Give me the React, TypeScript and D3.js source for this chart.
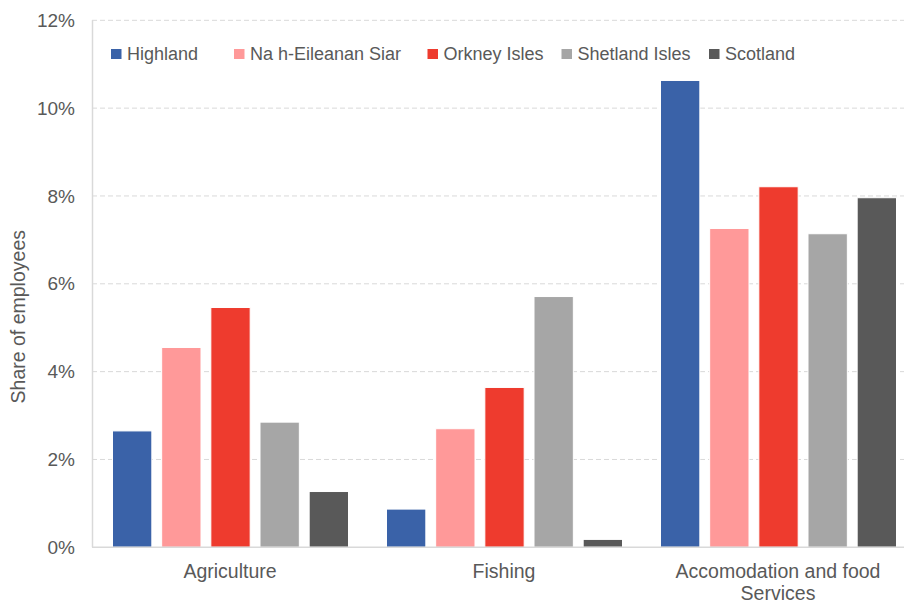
import React from "react";
import * as d3 from "d3";

const sectors = ["Agriculture", "Fishing", "Accomodation and food Services"];
const sectorLines = [["Agriculture"], ["Fishing"], ["Accomodation and food", "Services"]];
const regions = ["Highland", "Na h-Eileanan Siar", "Orkney Isles", "Shetland Isles", "Scotland"];
const colors = ["#3A62A8", "#FF9999", "#EE3B2E", "#A6A6A6", "#595959"];

// share of employees (%), one list per region, in sector order
const highland = [2.65, 0.87, 10.63];
const naHEileanan = [4.55, 2.7, 7.26];
const orkney = [5.46, 3.64, 8.21];
const shetland = [2.85, 5.71, 7.14];
const scotland = [1.27, 0.18, 7.96];
const series = [highland, naHEileanan, orkney, shetland, scotland];

const yTicks = [0, 2, 4, 6, 8, 10, 12];
// where each legend entry starts, as in the original
const legendX = [111, 234, 427.5, 561.5, 709];

function App() {
    const width = 904;
    const height = 604;
    const left = 92;
    const font = "'Liberation Sans', Arial, sans-serif";
    const textColor = "#595959";

    const x0 = d3.scaleBand().domain(sectors).range([left, left + 274 * 3]).padding(0);
    const x1 = d3.scaleBand().domain(regions).range([20.5, 256.5]).paddingInner(0.2).paddingOuter(0);
    const y = d3.scaleLinear().domain([0, 12]).range([547.3, 20.3]);

    return (
        <svg width={width} height={height} style={{position: "absolute", left: 0, top: 0, background: "#fff"}}
             fontFamily={font}>
            {yTicks.filter(t => t > 0).map(t =>
                <line key={t} x1={left} x2={width} y1={y(t)} y2={y(t)} stroke="#D9D9D9" strokeWidth={1}
                      strokeDasharray="5,3"/>
            )}
            {yTicks.map(t =>
                <text key={t} x={75} y={y(t)} dy="0.35em" textAnchor="end" fontSize={19} fill={textColor}>{t}%</text>
            )}
            <text transform={`translate(25,${y(5.25)}) rotate(-90)`} textAnchor="middle" fontSize={19.5}
                  fill={textColor}>Share of employees</text>

            {sectors.map((s, i) =>
                <g key={s} transform={`translate(${x0(s)},0)`}>
                    {regions.map((r, j) =>
                        <rect key={r} x={x1(r)} y={y(series[j][i])} width={x1.bandwidth()}
                              height={y(0) - y(series[j][i])} fill={colors[j]} stroke="#fff" strokeWidth={1}/>
                    )}
                    {sectorLines[i].map((line, k) =>
                        <text key={k} x={138} y={578 + k * 21.5} textAnchor="middle" fontSize={19.5}
                              fill={textColor}>{line}</text>
                    )}
                </g>
            )}

            <line x1={left + 0.5} x2={left + 0.5} y1={y(12)} y2={y(0)} stroke="#D9D9D9" strokeWidth={1.5}/>
            <line x1={left} x2={width} y1={y(0)} y2={y(0)} stroke="#D9D9D9" strokeWidth={1.5}/>

            <g transform="translate(0,54)">
                {regions.map((r, j) =>
                    <g key={r} transform={`translate(${legendX[j]},0)`}>
                        <rect x={0} y={-5} width={10.5} height={10} fill={colors[j]}/>
                        <text x={16} y={0} dy="0.35em" fontSize={18} fill={textColor}>{r}</text>
                    </g>
                )}
            </g>
        </svg>
    );
}

export default App;
